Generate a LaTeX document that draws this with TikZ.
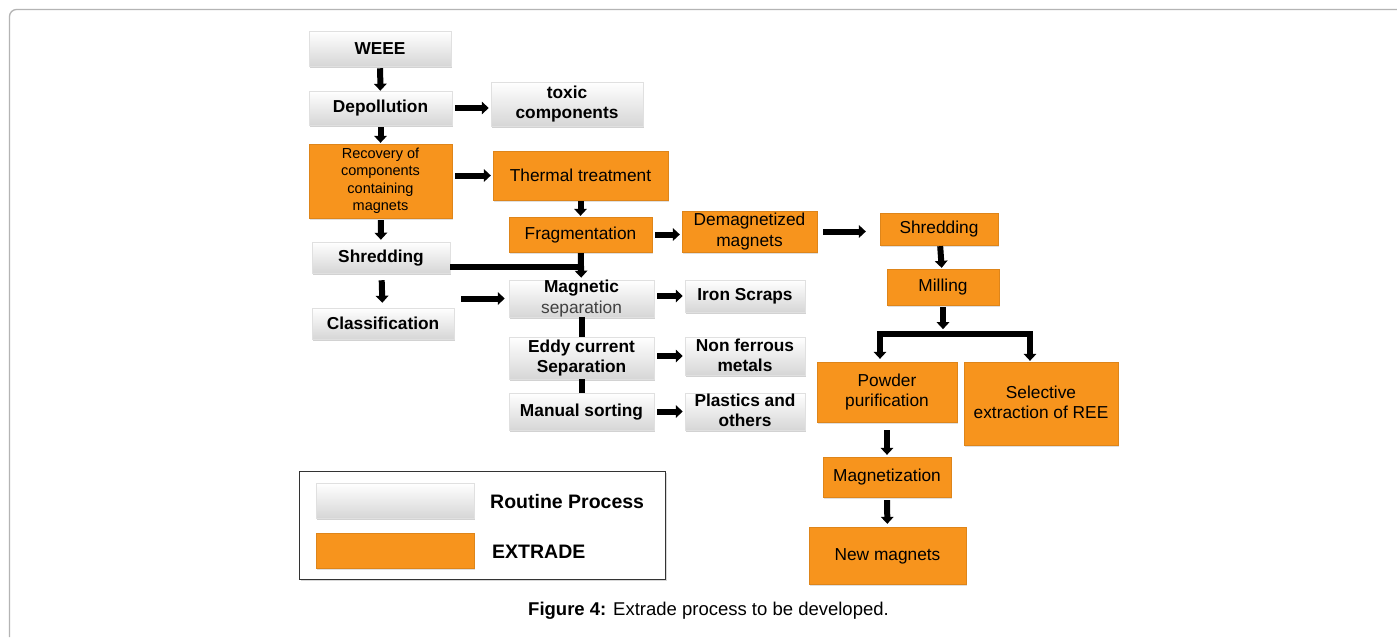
\documentclass[tikz,border=0pt]{standalone}
\usepackage{fontspec}
\setmainfont{Liberation Sans}
\usetikzlibrary{arrows.meta,shadows,calc}
\definecolor{extrade}{HTML}{F7941D}
\definecolor{framegray}{HTML}{B4B4B4}
\newcommand\bstrut{\rule[-2pt]{0pt}{15.5pt}}
\tikzset{
  boxtext/.style={execute at begin node=\bstrut, execute at end node=\bstrut},
  routine/.style={draw=black!12, line width=0.5pt, top color=white, bottom color=black!16,
    drop shadow={opacity=0.35, shadow xshift=1.2pt, shadow yshift=-1.8pt},
    font=\fontsize{17.3}{20}\selectfont\bfseries, align=center, inner sep=0pt, boxtext},
  extr/.style={fill=extrade, draw=extrade!90!black, line width=0.3pt,
    drop shadow={opacity=0.25, shadow xshift=1pt, shadow yshift=-1.5pt},
    font=\fontsize{17.3}{20}\selectfont, align=center, inner sep=0pt, boxtext},
  arr/.style={line width=6pt, -{Triangle[length=7pt,width=12.5pt]}},
  bar/.style={line width=5.5pt},
}
\begin{document}
\begin{tikzpicture}[x=1pt,y=-1pt]
\useasboundingbox (0,0) rectangle (1397,637);
\fill[white] (0,0) rectangle (1397,637);
\draw[framegray, line width=1.3pt, rounded corners=7pt] (1397,9.5) -- (9.5,9.5) -- (9.5,637);

% routine process nodes
\node[routine, minimum width=142, minimum height=35] (weee) at (380,48.5) {WEEE};
\node[routine, minimum width=143, minimum height=34] (depol) at (380.5,108) {Depollution};
\node[routine, minimum width=152, minimum height=44] (toxic) at (567,104) {toxic\\components};
\node[routine, minimum width=138, minimum height=31] (shred) at (381,257.5) {Shredding};
\node[routine, minimum width=142, minimum height=31] (classif) at (383,323.5) {Classification};
\node[routine, minimum width=145, minimum height=37] (magsep) at (581.5,298.5) {Magnetic\\[1pt]{\mdseries\color{black!75}separation}};
\node[routine, minimum width=120, minimum height=32] (iron) at (745,296) {Iron Scraps};
\node[routine, minimum width=145, minimum height=42] (eddy) at (581.5,358) {Eddy current\\Separation};
\node[routine, minimum width=120, minimum height=38] (nonfer) at (745,356) {Non ferrous\\metals};
\node[routine, minimum width=145, minimum height=37] (manual) at (581.5,411.5) {Manual sorting};
\node[routine, minimum width=120, minimum height=37] (plastics) at (745,411.5) {Plastics and\\others};

% extrade nodes
\node[extr, minimum width=143, minimum height=74, font=\fontsize{14.5}{17.5}\selectfont, boxtext/.style={}] (recov) at (380.5,181) {Recovery of\\components\\containing\\magnets};
\node[extr, minimum width=175, minimum height=49] (thermal) at (580.5,175.5) {Thermal treatment};
\node[extr, minimum width=143, minimum height=35] (frag) at (580.5,234.5) {Fragmentation};
\node[extr, minimum width=135, minimum height=41, font=\fontsize{17.3}{20.5}\selectfont] (demag) at (749.5,231.5) {Demagnetized\\magnets};
\node[extr, minimum width=118, minimum height=32] (shredb) at (939,229) {Shredding};
\node[extr, minimum width=112, minimum height=36] (milling) at (943,287) {Milling};
\node[extr, minimum width=140, minimum height=60] (powder) at (887,392) {Powder\\purification};
\node[extr, minimum width=154, minimum height=83] (select) at (1041,403.5) {Selective\\extraction of REE};
\node[extr, minimum width=128, minimum height=40] (magnetiz) at (887,477) {Magnetization};
\node[extr, minimum width=157, minimum height=57] (newmag) at (887.5,555.5) {New magnets};

% connectors
\draw[arr, shorten <=2pt] (weee) -- (depol);
\draw[arr, shorten <=2pt, shorten >=1pt] (depol) -- (recov);
\draw[arr, shorten <=3pt, shorten >=2pt] (depol.east) -- (depol.east -| toxic.west);
\draw[arr, shorten <=3pt, shorten >=2pt] (thermal.west -| recov.east) -- (thermal.west);
\draw[arr, shorten <=2pt, shorten >=2pt] (recov) -- (shred);
\draw[arr, shorten <=1pt, shorten >=1pt] (thermal) -- (frag);
\draw[arr, shorten <=3pt, shorten >=2pt] (frag.east) -- (frag.east -| demag.west);
\draw[arr, shorten <=6pt, shorten >=14pt] (demag.east) -- (demag.east -| shredb.west);
\coordinate (j1) at ([yshift=-9.5pt]shred.east);
\coordinate (j2) at (j1 -| frag.south);
\draw[bar] (j1) -- ([xshift=2.75pt]j2);
\draw[arr, shorten <=1pt, shorten >=2pt] (frag) -- (magsep);
\draw[arr, shorten <=7pt, shorten >=5pt] (shred) -- (classif);
\draw[arr, shorten <=7pt, shorten >=4pt] (magsep.west -| classif.east) -- (magsep.west);
\draw[arr, shorten <=3pt, shorten >=2pt] (iron.west -| magsep.east) -- (iron.west);
\draw[bar, line width=6pt] (magsep) -- (eddy);
\draw[bar, line width=6pt] (eddy) -- (manual);
\draw[arr, shorten <=3pt, shorten >=2pt] (nonfer.west -| eddy.east) -- (nonfer.west);
\draw[arr, shorten <=3pt, shorten >=2pt] (manual.east) -- (manual.east -| plastics.west);
\draw[arr, shorten <=1pt, shorten >=1pt] (shredb) -- (milling);
\coordinate (m1) at ([yshift=-29pt]milling.south);
\coordinate (bl) at (m1 -| 880,0);
\coordinate (br) at (m1 -| 1030,0);
\draw[arr, shorten <=2pt, shorten >=5pt] (milling.south) -- (m1);
\draw[bar] ([xshift=-3pt]bl) -- ([xshift=3pt]br);
\draw[arr, shorten <=-2.5pt, shorten >=3pt] (bl) -- (bl |- powder.north);
\draw[arr, shorten <=-2.5pt, shorten >=1pt] (br) -- (br |- select.north);
\draw[arr, shorten <=8pt, shorten >=2pt] (powder) -- (magnetiz);
\draw[arr, shorten <=3pt, shorten >=3pt] (magnetiz) -- (newmag);

% legend
\node[draw=black!80, line width=1pt, minimum width=366, minimum height=108, inner sep=0pt,
  drop shadow={opacity=0.3, shadow xshift=1.5pt, shadow yshift=-1.5pt}, fill=white] (legend) at (482,525) {};
\node[routine, minimum width=158, minimum height=35] (sw1) at (395,500.5) {};
\node[extr, minimum width=158, minimum height=35] (sw2) at (395,550.5) {};
\node[anchor=west, font=\fontsize{19.5}{22}\selectfont\bfseries, inner sep=0pt] (l1) at (490,502) {Routine Process};
\node[anchor=west, font=\fontsize{19.5}{22}\selectfont\bfseries, inner sep=0pt] (l2) at (492,552) {EXTRADE};

% caption
\node[font=\fontsize{18.5}{22}\selectfont, inner sep=0pt] (cap) at (708.5,611) {\textbf{Figure 4:} Extrade process to be developed.};
\end{tikzpicture}
\end{document}
